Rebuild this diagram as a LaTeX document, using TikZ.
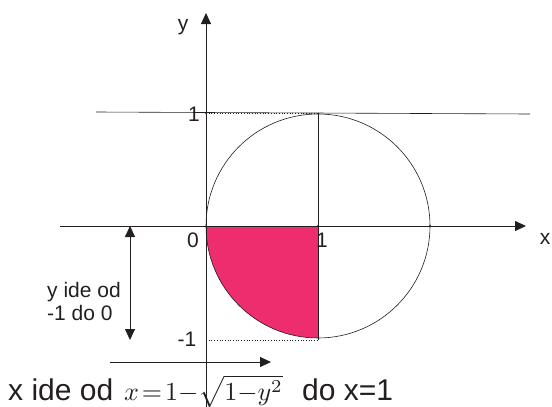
\documentclass[tikz,border=0pt]{standalone}
\usepackage{fontspec}
\setmainfont{Liberation Sans}
\usetikzlibrary{arrows.meta}
\definecolor{ink}{RGB}{35,31,32}
\definecolor{fillpink}{RGB}{238,45,111}
\begin{document}
\begin{tikzpicture}[x=1pt,y=-1pt,
  axis/.style={draw=ink,line width=0.8pt},
  thin/.style={draw=ink,line width=0.6pt},
  dotline/.style={draw=ink,line width=0.7pt,dotted},
  arrowtip/.style={-{Triangle[length=11pt,width=10pt]}},
  lbl/.style={text=ink,font=\fontsize{21}{21}\selectfont,inner sep=0pt},
  big/.style={text=ink,font=\fontsize{30}{30}\selectfont,inner sep=0pt},
  dotmark/.style={circle,fill=ink,inner sep=0pt,minimum size=2.2pt}]
\useasboundingbox (0,0) rectangle (552,407);
% coordinates
\coordinate (O) at (206,226);
\coordinate (C) at (318,226);
\coordinate (R) at (430,226);
\coordinate (T) at (318,113);
\coordinate (B) at (318,340);
\coordinate (Y1) at (206,113);
\coordinate (Ym) at (206,340);
\coordinate (xs) at (60,226);
\coordinate (xe) at (526,226);
\coordinate (ys) at (206,407);
\coordinate (ye) at (206,13);
\coordinate (hs) at (96,112);
\coordinate (he) at (530,114);
\coordinate (da) at (130,226);
\coordinate (db) at (130,340);
\coordinate (la) at (110,362);
\coordinate (lb) at (271,362);
% pink sector
\fill[fillpink] (C) -- (O) arc[start angle=180,end angle=90,radius=112] -- cycle;
\draw[thin] (C) circle[radius=112];
% lines
\draw[thin] (hs) -- (he);
\draw[dotline] (Y1) -- (T);
\draw[dotline] (Ym) -- (B);
\draw[axis] (T) -- (B);
\draw[axis,arrowtip] (xs) -- (xe);
\draw[axis,arrowtip] (ys) -- (ye);
\draw[axis,{Triangle[length=11pt,width=10pt]}-{Triangle[length=11pt,width=10pt]}] (da) -- (db);
\draw[axis,arrowtip] (la) -- (lb);
% marks
\node[dotmark] (m1) at (Y1) {};
\node[dotmark] (m2) at (C) {};
\node[dotmark] (m3) at (R) {};
% labels
\node[lbl] (ly) at (183,27) {y};
\node[lbl] (lx) at (545,239) {x};
\node[lbl] (l1) at (194,114) {1};
\node[lbl] (l0) at (193,240) {0};
\node[lbl] (l1x) at (322,240) {1};
\node[lbl] (lm1) at (187,339) {-1};
\node[lbl,align=left,anchor=west,font=\fontsize{21}{23}\selectfont] (yt) at (47,301) {y ide od\\-1 do 0};
\node[big,anchor=base west] (xt) at (8,400) {x ide od};
\node[anchor=base west,inner sep=0pt,text=ink] (fx) at (124,400) {\scalebox{2.6}{\thickmuskip=2mu\medmuskip=0mu$x=1-\sqrt{1-y^2}$}};
\node[big,anchor=base west] (dt) at (302,400) {do x=1};
\end{tikzpicture}
\end{document}
